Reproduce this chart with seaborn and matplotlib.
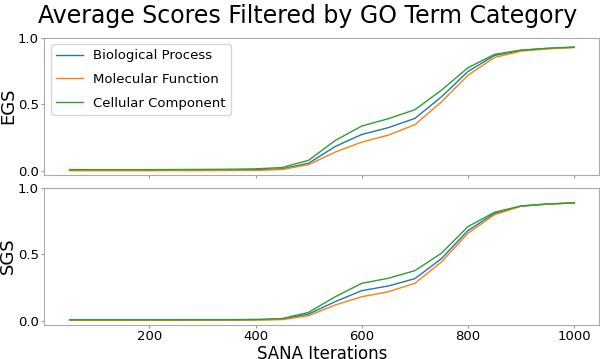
# Average EGS / SGS scores over SANA iterations, split by GO term category.

import pandas as pd
import matplotlib.pyplot as plt
import seaborn as sns

# Data
iterations = [50, 100, 150, 200, 250, 300, 350, 400, 450, 500,
              550, 600, 650, 700, 750, 800, 850, 900, 950, 1000]
categories = ["Biological Process", "Molecular Function", "Cellular Component"]

egs_bp = [0.008, 0.008, 0.008, 0.008, 0.009, 0.009, 0.010, 0.011, 0.018, 0.060,
          0.185, 0.275, 0.326, 0.395, 0.556, 0.746, 0.866, 0.904, 0.918, 0.926]
egs_mf = [0.004, 0.004, 0.004, 0.004, 0.005, 0.005, 0.006, 0.007, 0.013, 0.050,
          0.143, 0.218, 0.270, 0.348, 0.518, 0.718, 0.851, 0.898, 0.915, 0.926]
egs_cc = [0.012, 0.012, 0.012, 0.012, 0.013, 0.014, 0.015, 0.018, 0.028, 0.082,
          0.230, 0.338, 0.393, 0.460, 0.606, 0.774, 0.874, 0.906, 0.920, 0.929]

sgs_bp = [0.005, 0.005, 0.005, 0.005, 0.005, 0.006, 0.006, 0.007, 0.012, 0.050,
          0.143, 0.226, 0.261, 0.316, 0.466, 0.677, 0.807, 0.862, 0.877, 0.885]
sgs_mf = [0.003, 0.003, 0.003, 0.003, 0.003, 0.004, 0.004, 0.005, 0.008, 0.038,
          0.118, 0.180, 0.218, 0.281, 0.441, 0.657, 0.797, 0.860, 0.876, 0.885]
sgs_cc = [0.007, 0.007, 0.007, 0.007, 0.007, 0.008, 0.008, 0.010, 0.016, 0.063,
          0.180, 0.281, 0.319, 0.376, 0.507, 0.707, 0.815, 0.862, 0.877, 0.886]

# Long format
rows = []
for cat, egs, sgs in zip(categories, [egs_bp, egs_mf, egs_cc], [sgs_bp, sgs_mf, sgs_cc]):
    for it, e, s in zip(iterations, egs, sgs):
        rows.append({"iteration": it, "category": cat, "EGS": e, "SGS": s})
df = pd.DataFrame(rows)

palette = ["#1f77b4", "#ff7f0e", "#2ca02c"]

fig, axs = plt.subplots(2, 1, figsize=(6, 3.59), dpi=100, sharex=True)
fig.subplots_adjust(left=0.074, right=0.999, top=0.8955, bottom=0.0955, hspace=0.095)
fig.suptitle("Average Scores Filtered by GO Term Category", fontsize=17, x=0.513, y=0.99)

for ax, metric, ylo in zip(axs, ["EGS", "SGS"], [-0.025, -0.03]):
    sns.lineplot(data=df, x="iteration", y=metric, hue="category", palette=palette,
                 linewidth=1.0, ax=ax, legend=(metric == "EGS"))
    ax.set_ylim(ylo, 1.0)
    ax.set_yticks([0.0, 0.5, 1.0])
    ax.set_ylabel(metric, fontsize=13)
    ax.yaxis.set_label_coords(-0.049, 0.5)
    ax.set_xlabel("")
    ax.tick_params(labelsize=9.5, color="#999999", length=2.5, pad=1.5)
    for s in ax.spines.values():
        s.set_color("#aaaaaa")

axs[0].legend(loc="upper left", fontsize=9.5, edgecolor="#cccccc", labelspacing=0.8)
axs[1].set_xticks([200, 400, 600, 800, 1000])
axs[1].set_xlabel("SANA Iterations", fontsize=12, labelpad=1)

plt.savefig("out.png", dpi=100)
plt.close()
